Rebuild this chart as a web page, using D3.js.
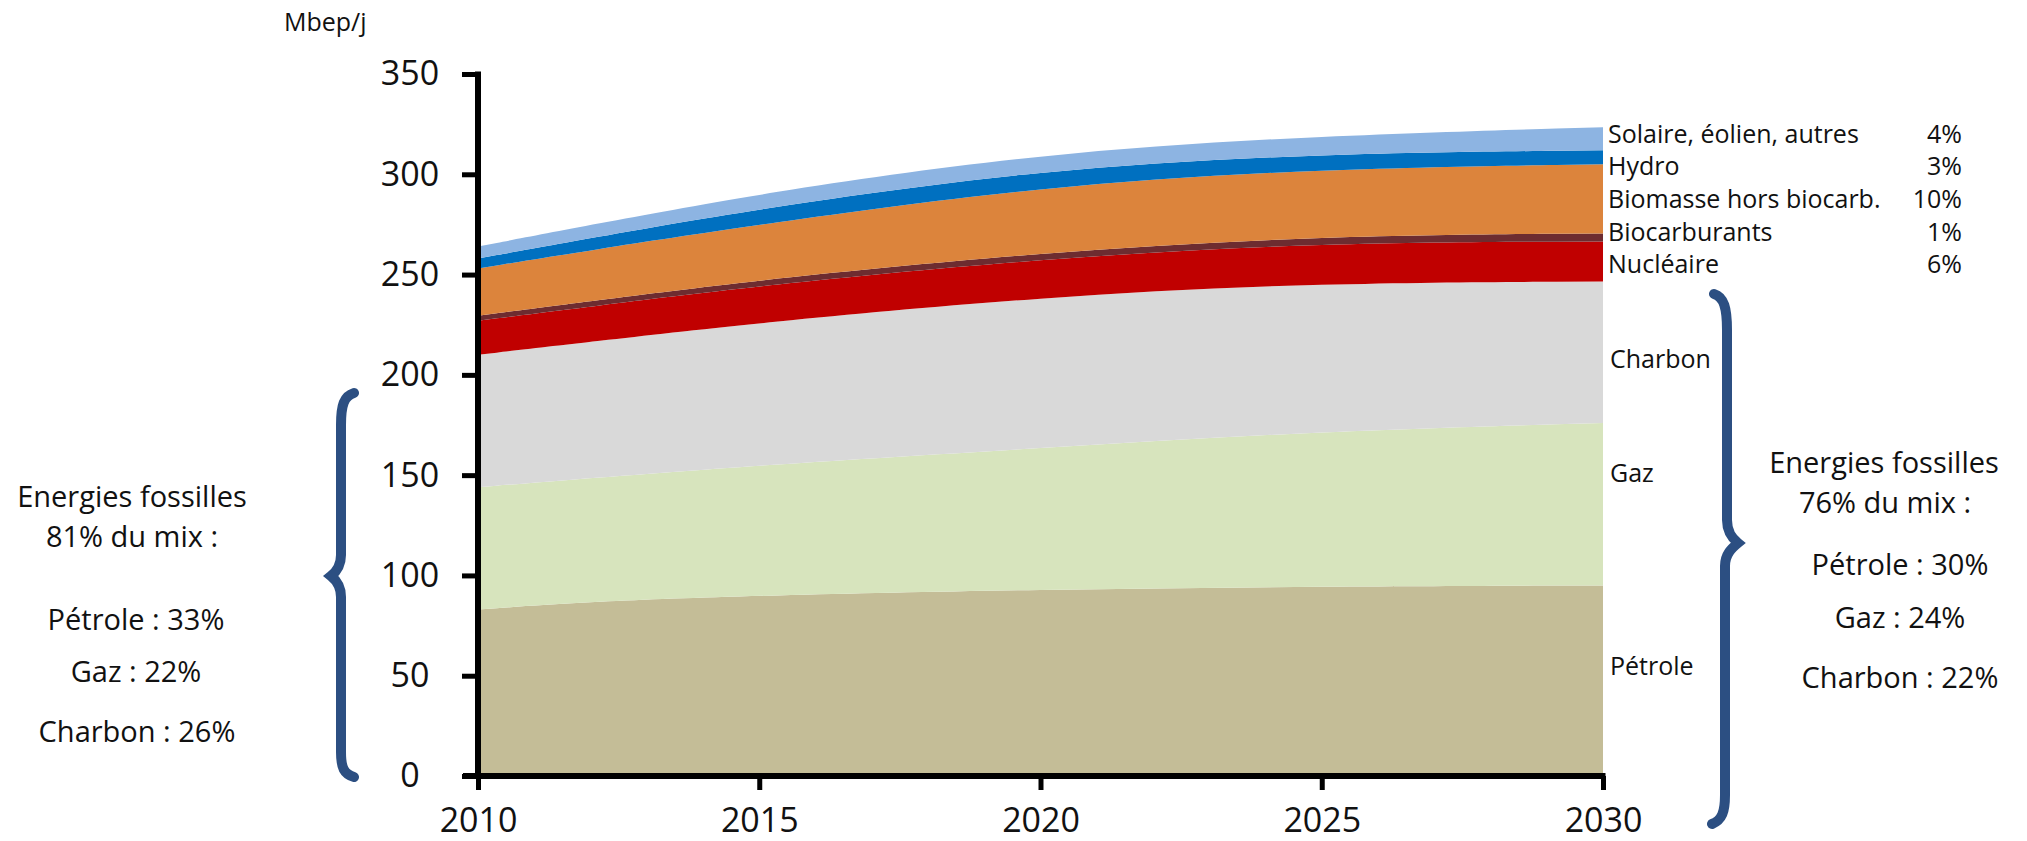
<!DOCTYPE html>
<html>
<head>
<meta charset="utf-8">
<script src="https://cdn.jsdelivr.net/npm/d3@7"></script>
<style>
  html, body { margin: 0; padding: 0; background: #ffffff; }
  svg { display: block; font-family: "Open Sans", "Noto Sans", sans-serif; }
</style>
</head>
<body>
<svg id="chart" width="2027" height="841"></svg>
<script>
// ---- Data (Mbep/j) ----
const years         = [2010, 2012, 2015, 2020, 2025, 2030];
const petrole       = [83,   87,   90,   93,   94.5, 95];
const gaz           = [61,   61.5, 65,   70.5, 77.5, 81];
const charbon       = [66,   68,   71,   75.5, 74,   70.5];
const nucleaire     = [17,   17.5, 18.5, 19,   20,   20];
const biocarburants = [2.5,  2.7,  3,    3.2,  3.4,  4];
const biomasse      = [23.5, 25.5, 27.5, 33,   33.5, 34.5];
const hydro         = [5,    6,    8,    8.5,  7.5,  7];
const solaire       = [6,    6.5,  7.5,  8,    9,    11.5];

const seriesKeys   = ["Pétrole", "Gaz", "Charbon", "Nucléaire", "Biocarburants", "Biomasse", "Hydro", "Solaire"];
const seriesValues = [petrole, gaz, charbon, nucleaire, biocarburants, biomasse, hydro, solaire];
const seriesColors = ["#c4bd97", "#d7e4bd", "#d9d9d9", "#c00000", "#6d2c30", "#dc843c", "#0070c0", "#8db4e2"];

const yTicks = [0, 50, 100, 150, 200, 250, 300, 350];
const xTicks = [2010, 2015, 2020, 2025, 2030];

const legendLabels = ["Solaire, éolien, autres", "Hydro", "Biomasse hors biocarb.", "Biocarburants", "Nucléaire"];
const legendShares = ["4%", "3%", "10%", "1%", "6%"];
const fossilLabels = ["Charbon", "Gaz", "Pétrole"];
const leftNote  = ["Energies fossilles", "81% du mix :", "Pétrole : 33%", "Gaz : 22%", "Charbon : 26%"];
const rightNote = ["Energies fossilles", "76% du mix :", "Pétrole : 30%", "Gaz : 24%", "Charbon : 22%"];

// ---- Build table ----
const table = years.map((yr, i) => {
  const row = { year: yr };
  seriesKeys.forEach((k, j) => row[k] = seriesValues[j][i]);
  return row;
});

const svg = d3.select("#chart");
const x = d3.scaleLinear().domain([2010, 2030]).range([478, 1603]);
const y = d3.scaleLinear().domain([0, 350]).range([776, 74]);

const stack = d3.stack().keys(seriesKeys);
const layers = stack(table);

const area = d3.area()
  .x(d => x(d.data.year))
  .y0(d => y(d[0]))
  .y1(d => y(d[1]))
  .curve(d3.curveBasis);

svg.append("g").selectAll("path")
  .data(layers)
  .join("path")
  .attr("d", area)
  .attr("fill", (d, i) => seriesColors[i]);

// ---- Axes ----
const yAxis = d3.axisLeft(y).tickValues(yTicks).tickSize(16).tickSizeOuter(0).tickFormat(d3.format("d"));
const gy = svg.append("g").attr("transform", `translate(${x(2010)},0)`).call(yAxis);
gy.select(".domain").remove();
gy.selectAll(".tick line").attr("stroke", "#000").attr("stroke-width", 5);
gy.selectAll(".tick text")
  .attr("x", -68).attr("text-anchor", "middle")
  .attr("font-size", 34).attr("fill", "#111")
  .attr("font-family", "'Open Sans', sans-serif");
gy.append("line")
  .attr("x1", 0).attr("x2", 0)
  .attr("y1", y(350) - 2.5).attr("y2", y(0))
  .attr("stroke", "#000").attr("stroke-width", 6);

const xAxis = d3.axisBottom(x).tickValues(xTicks).tickSize(14).tickPadding(18).tickSizeOuter(0).tickFormat(d3.format("d"));
const gx = svg.append("g").attr("transform", `translate(0,${y(0)})`).call(xAxis);
gx.select(".domain").remove();
gx.selectAll(".tick line").attr("stroke", "#000").attr("stroke-width", 5);
gx.selectAll(".tick text")
  .attr("font-size", 34).attr("fill", "#111")
  .attr("font-family", "'Open Sans', sans-serif");
gx.append("line")
  .attr("x1", x(2010) - 15).attr("x2", x(2030) + 2.5)
  .attr("y1", 0).attr("y2", 0)
  .attr("stroke", "#000").attr("stroke-width", 6);

// ---- Unit label ----
svg.append("text").attr("x", 284).attr("y", 31)
  .attr("font-size", 25).attr("fill", "#111").text("Mbep/j");

// ---- Right legend ----
const legBase = [143, 175, 208, 241, 273];
const leg = svg.append("g").attr("font-size", 25).attr("fill", "#111");
legendLabels.forEach((t, i) => {
  leg.append("text").attr("x", 1608).attr("y", legBase[i]).text(t);
  leg.append("text").attr("x", 1962).attr("y", legBase[i]).attr("text-anchor", "end").text(legendShares[i]);
});
const fosBase = [368, 482, 675];
fossilLabels.forEach((t, i) => {
  leg.append("text").attr("x", 1610).attr("y", fosBase[i]).text(t);
});

// ---- Notes ----
const leftBase = [507, 547, 630, 682, 742];
const leftCx = [132, 132, 136, 136, 137];
const rightBase = [473, 513, 575, 628, 688];
const rightCx = [1884, 1885, 1900, 1900, 1900];
const notes = svg.append("g").attr("font-size", 29).attr("fill", "#111").attr("text-anchor", "middle");
leftNote.forEach((t, i) => notes.append("text").attr("x", leftCx[i]).attr("y", leftBase[i]).text(t));
rightNote.forEach((t, i) => notes.append("text").attr("x", rightCx[i]).attr("y", rightBase[i]).text(t));

// ---- Braces ----
const braceColor = "#2c4f82";
svg.append("path")
  .attr("d", "M354,393 C344,396 341,405 341,425 L341,555 C341,566 336,572 331,576 C336,580 341,586 341,597 L341,752 C341,768 344,774 354,777")
  .attr("fill", "none").attr("stroke", braceColor).attr("stroke-width", 10).attr("stroke-linecap", "round");
svg.append("path")
  .attr("d", "M1714,294 C1724,297 1727,308 1727,330 L1727,520 C1727,532 1732,538 1738,543 C1732,548 1725,554 1725,566 L1725,795 C1725,812 1722,820 1712,824")
  .attr("fill", "none").attr("stroke", braceColor).attr("stroke-width", 10).attr("stroke-linecap", "round");
</script>
</body>
</html>
